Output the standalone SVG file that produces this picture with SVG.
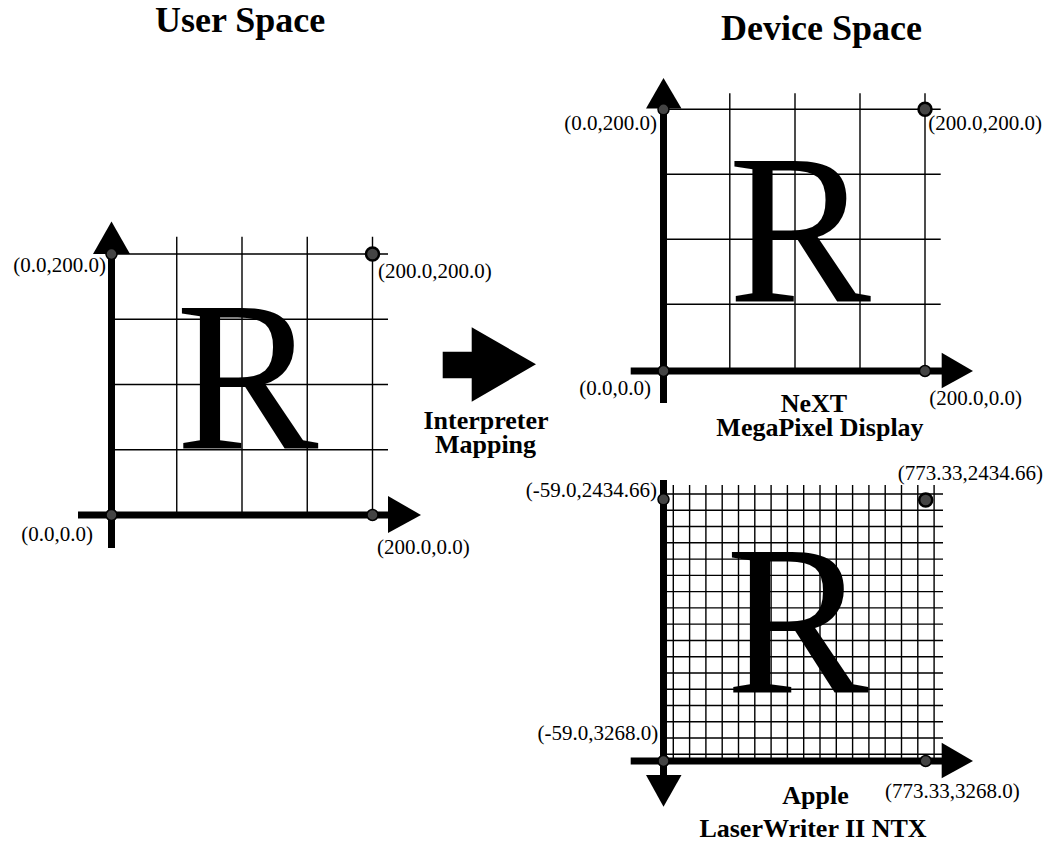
<svg xmlns="http://www.w3.org/2000/svg" width="1054" height="844" viewBox="0 0 1054 844">
<style>
.title{font-family:"Liberation Serif","Times New Roman",serif;font-weight:bold;font-size:36px;fill:#000}
.cap{font-family:"Liberation Serif","Times New Roman",serif;font-weight:bold;font-size:26px;fill:#000;text-anchor:middle}
.lbl{font-family:"Liberation Serif","Times New Roman",serif;font-size:21px;fill:#000}
.end{text-anchor:end}
.big{font-family:"Liberation Serif","Times New Roman",serif;font-size:214px;fill:#000;text-anchor:middle}
.grid{stroke:#000;stroke-width:1.4;fill:none}
.axis{stroke:#000;stroke-width:7;fill:none}
.head{fill:#000}
.dot{fill:#444;stroke:#000;stroke-width:1.5}
.dotb{fill:#444;stroke:#000;stroke-width:2.5}
</style>
<rect width="1054" height="844" fill="#fff"/>

<text class="title" x="155" y="32">User Space</text>
<text class="title" x="721" y="39.5">Device Space</text>

<g id="user-space">
  <g class="grid">
    <path d="M111.5 254H388M111.5 319.25H388M111.5 384.5H388M111.5 449.75H388"/>
    <path d="M176.75 236.7V515M242 236.7V515M307.25 236.7V515M372.5 236.7V515"/>
  </g>
  <text class="big" x="247" y="449">R</text>
  <line class="axis" x1="111.5" y1="250" x2="111.5" y2="548"/>
  <line class="axis" x1="78" y1="515" x2="392" y2="515"/>
  <polygon class="head" points="93,254 130,254 111.5,221.5"/>
  <polygon class="head" points="388,496 388,533 421,515"/>
  <circle class="dot" cx="111.5" cy="254" r="5.5"/>
  <circle class="dotb" cx="372.5" cy="254" r="6.5"/>
  <circle class="dot" cx="111.5" cy="515" r="5.5"/>
  <circle class="dot" cx="372.5" cy="515" r="5.5"/>
  <text class="lbl end" x="106" y="272">(0.0,200.0)</text>
  <text class="lbl" x="378" y="278">(200.0,200.0)</text>
  <text class="lbl end" x="93" y="541">(0.0,0.0)</text>
  <text class="lbl" x="377" y="554">(200.0,0.0)</text>
</g>

<g id="mapping">
  <polygon class="head" points="442.7,351.7 471.7,351.7 471.7,327.3 536,364.3 471.7,401.7 471.7,378.3 442.7,378.3"/>
  <text class="cap"><tspan x="486" y="428.5">Interpreter</tspan><tspan x="485.5" y="453">Mapping</tspan></text>
</g>

<g id="device-next">
  <g class="grid">
    <path d="M663.5 109.3H940.7M663.5 174.3H940.7M663.5 239.3H940.7M663.5 304.3H940.7"/>
    <path d="M729.8 93.3V371M795 93.3V371M860 93.3V371M925 93.3V371"/>
  </g>
  <text class="big" x="799.5" y="302.3">R</text>
  <line class="axis" x1="663.5" y1="105" x2="663.5" y2="403"/>
  <line class="axis" x1="630.7" y1="371" x2="945" y2="371"/>
  <polygon class="head" points="646,108.5 681.5,108.5 663.5,78"/>
  <polygon class="head" points="941.7,352.7 941.7,388.3 973,371"/>
  <circle class="dot" cx="663.5" cy="109.3" r="5.5"/>
  <circle class="dotb" cx="925" cy="109.3" r="6.5"/>
  <circle class="dot" cx="663.5" cy="371" r="5.5"/>
  <circle class="dot" cx="925" cy="371" r="5.5"/>
  <text class="lbl end" x="657" y="130">(0.0,200.0)</text>
  <text class="lbl" x="928.3" y="130">(200.0,200.0)</text>
  <text class="lbl end" x="651" y="395">(0.0,0.0)</text>
  <text class="lbl" x="929.3" y="405">(200.0,0.0)</text>
  <text class="cap"><tspan x="814" y="412">NeXT</tspan><tspan x="820" y="436">MegaPixel Display</tspan></text>
</g>

<g id="device-laserwriter">
  <g class="grid">
    <path d="M663.5 494H943M663.5 510.27H943M663.5 526.54H943M663.5 542.81H943M663.5 559.08H943M663.5 575.35H943M663.5 591.62H943M663.5 607.89H943M663.5 624.16H943M663.5 640.43H943M663.5 656.7H943M663.5 672.97H943M663.5 689.24H943M663.5 705.51H943M663.5 721.78H943M663.5 738.05H943M663.5 754.32H943"/>
    <path d="M673.3 485V761M689.6 485V761M705.9 485V761M722.2 485V761M738.5 485V761M754.8 485V761M771.1 485V761M787.4 485V761M803.7 485V761M820 485V761M836.3 485V761M852.6 485V761M868.9 485V761M885.2 485V761M901.5 485V761M917.8 485V761M934.1 485V761"/>
  </g>
  <text class="big" x="797" y="692.7">R</text>
  <line class="axis" x1="663.5" y1="480" x2="663.5" y2="778"/>
  <line class="axis" x1="630.7" y1="761" x2="945" y2="761"/>
  <polygon class="head" points="646,775 681.5,775 663.5,806.7"/>
  <polygon class="head" points="941.7,742.7 941.7,778.3 973,761"/>
  <circle class="dot" cx="663.5" cy="499.3" r="5.5"/>
  <circle class="dotb" cx="925.7" cy="500" r="6.5"/>
  <circle class="dot" cx="663.5" cy="761" r="5.5"/>
  <circle class="dot" cx="925.7" cy="761" r="5.5"/>
  <text class="lbl end" x="657" y="497">(-59.0,2434.66)</text>
  <text class="lbl end" x="1043" y="480">(773.33,2434.66)</text>
  <text class="lbl end" x="658.3" y="740">(-59.0,3268.0)</text>
  <text class="lbl" x="885" y="798">(773.33,3268.0)</text>
  <text class="cap"><tspan x="815.5" y="804">Apple</tspan><tspan x="813" y="837">LaserWriter II NTX</tspan></text>
</g>
</svg>
